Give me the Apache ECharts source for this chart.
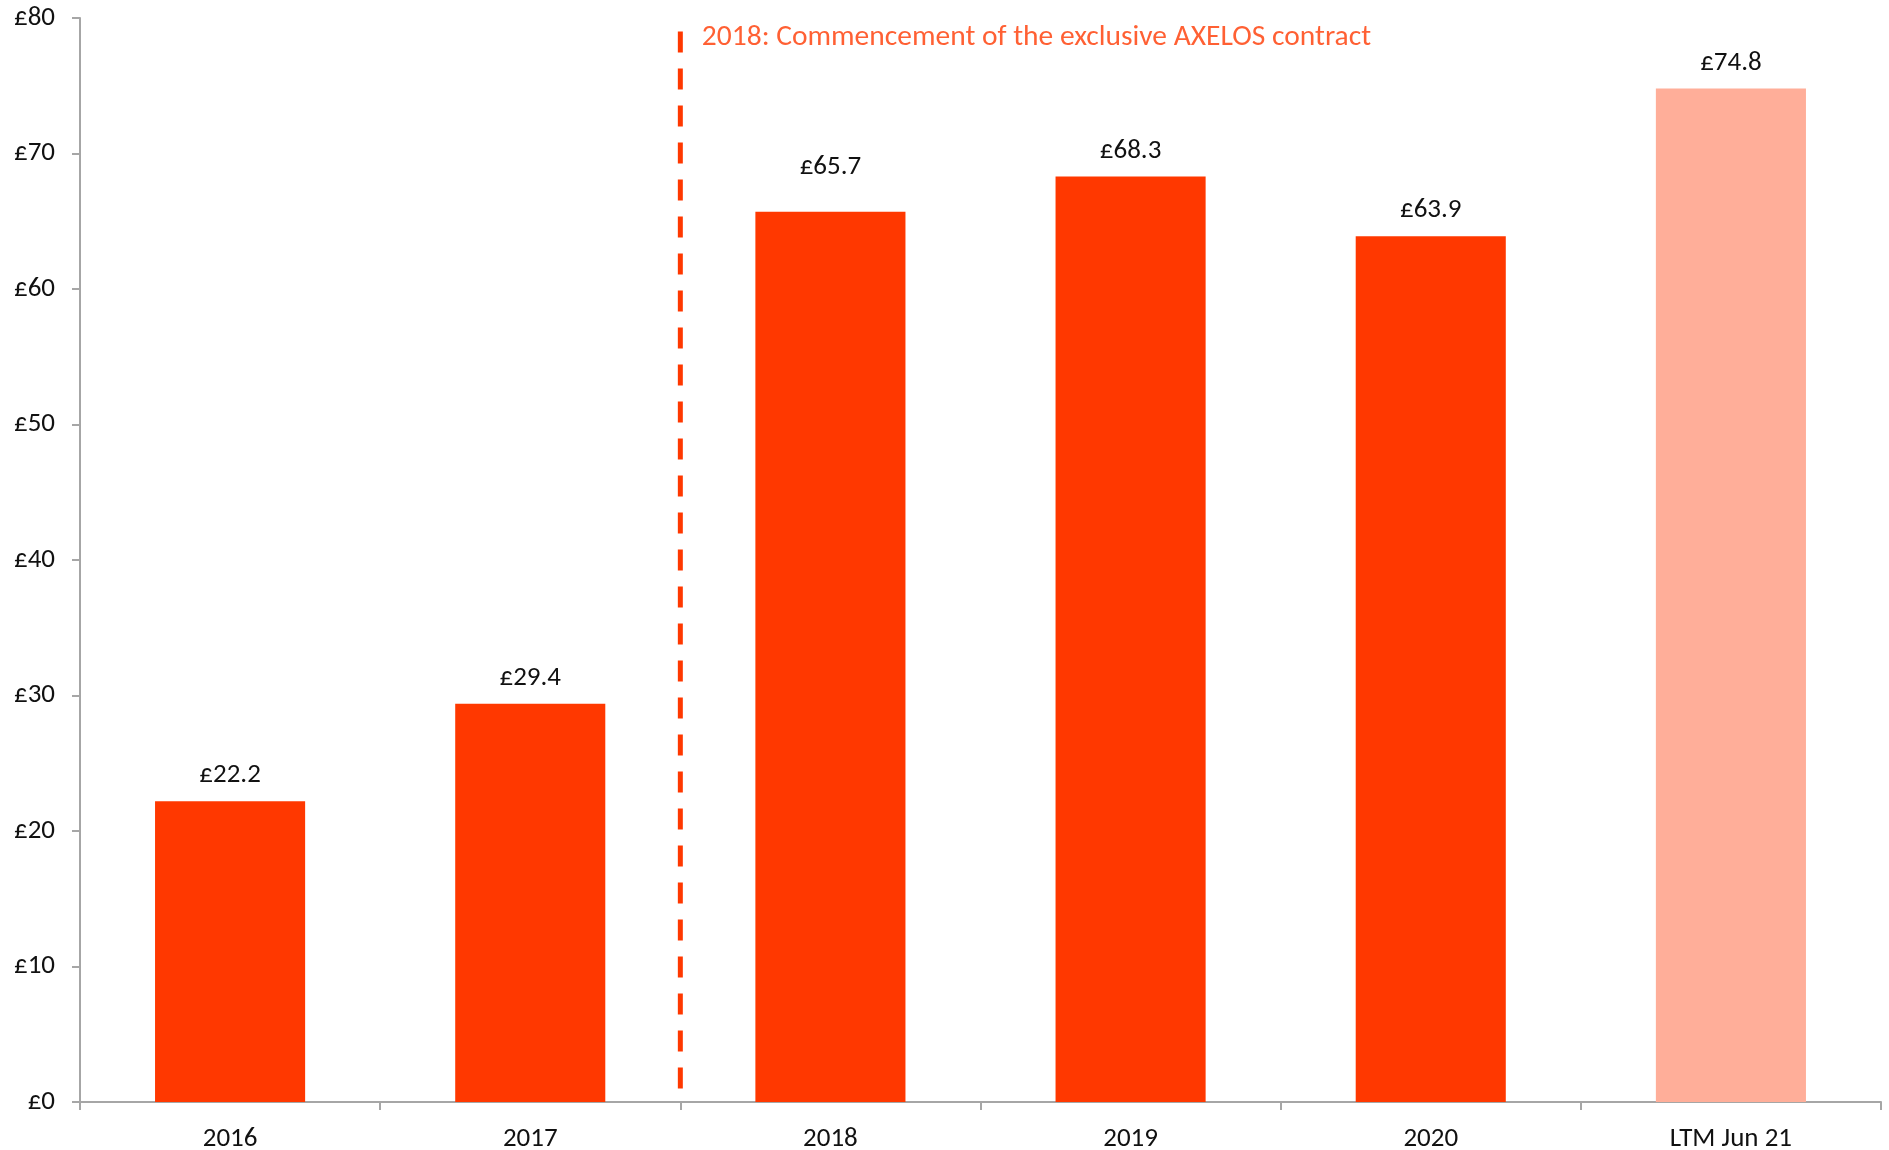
<!DOCTYPE html>
<html>
<head>
<meta charset="utf-8">
<script src="https://cdn.jsdelivr.net/npm/echarts@6/dist/echarts.min.js"></script>
<style>
  html, body { margin: 0; padding: 0; background: #ffffff; }
  #chart { width: 1889px; height: 1150px; }
</style>
</head>
<body>
<div id="chart"></div>
<script>
// Revenue by year (£m)
const categories = ['2016', '2017', '2018', '2019', '2020', 'LTM Jun 21'];
const revenue = [22.2, 29.4, 65.7, 68.3, 63.9, 74.8];
const yTicks = [0, 10, 20, 30, 40, 50, 60, 70, 80];

// Marker between 2017 and 2018 (category index 1.5) with its caption
const contractBoundary = [1.5];
const contractLineSpan = [0, 79];
const contractCaption = ['2018: Commencement of the exclusive AXELOS contract'];

const FONT = 'Carlito, Calibri, Lato, sans-serif';
const BAR = '#FF3800';
const BAR_LTM = '#FFAE99';
const AXIS = '#a6a6a6';
const TEXT = '#111111';

const chart = echarts.init(document.getElementById('chart'));

const barData = revenue.map((v, i) => ({
  value: v,
  itemStyle: { color: i === categories.length - 1 ? BAR_LTM : BAR },
  // the 2018 label sits a little higher than the others
  label: i === 2 ? { distance: 31 } : undefined
}));

chart.setOption({
  backgroundColor: '#ffffff',
  animation: false,
  grid: {
    left: 80, right: 8, top: 18, bottom: 48,
    containLabel: false,
    outerBoundsMode: 'none'
  },
  xAxis: [
    {
      type: 'category',
      data: categories,
      axisLine: { lineStyle: { color: AXIS, width: 2 } },
      axisTick: { show: true, length: 8, lineStyle: { color: AXIS, width: 2 } },
      axisLabel: { color: TEXT, fontSize: 27, fontFamily: FONT, margin: 24 }
    },
    {
      type: 'value',
      min: -0.5,
      max: categories.length - 0.5,
      show: false
    }
  ],
  yAxis: {
    type: 'value',
    min: yTicks[0],
    max: yTicks[yTicks.length - 1],
    interval: yTicks[1] - yTicks[0],
    axisLine: { show: true, onZero: false, lineStyle: { color: AXIS, width: 2 } },
    axisTick: { show: true, length: 8, lineStyle: { color: AXIS, width: 2 } },
    splitLine: { show: false },
    axisLabel: {
      color: TEXT, fontSize: 27, fontFamily: FONT, margin: 25,
      formatter: '£{value}'
    }
  },
  series: [
    {
      type: 'bar',
      data: barData,
      barCategoryGap: '50%',
      label: {
        show: true,
        position: 'top',
        distance: 12,
        color: TEXT,
        fontSize: 27,
        fontFamily: FONT,
        formatter: p => '£' + p.value.toFixed(1)
      }
    },
    {
      type: 'line',
      xAxisIndex: 1,
      data: [
        [contractBoundary[0], contractLineSpan[1]],
        [contractBoundary[0], contractLineSpan[0]]
      ],
      symbol: 'none',
      lineStyle: { color: BAR, width: 5, type: [21, 16] },
      silent: true,
      z: 3
    },
    {
      type: 'scatter',
      xAxisIndex: 1,
      data: [[contractBoundary[0], contractLineSpan[1]]],
      symbolSize: 1,
      itemStyle: { color: 'rgba(0,0,0,0)' },
      label: {
        show: true,
        position: 'right',
        distance: 21,
        offset: [0, 6],
        color: BAR,
        fontSize: 29.5,
        fontFamily: FONT,
        formatter: () => contractCaption[0]
      },
      silent: true,
      z: 4
    }
  ]
});
</script>
</body>
</html>
